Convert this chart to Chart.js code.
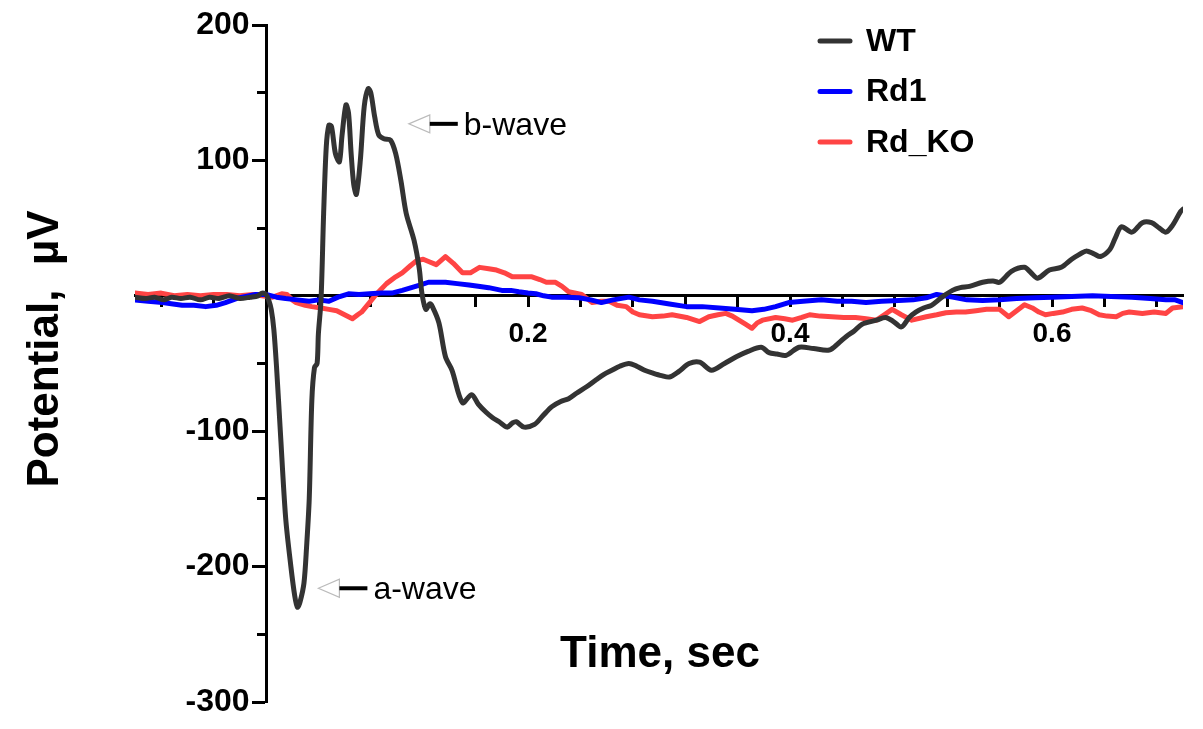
<!DOCTYPE html>
<html>
<head>
<meta charset="utf-8">
<script src="https://cdn.jsdelivr.net/npm/chart.js@4.4.0/dist/chart.umd.min.js"></script>
<style>
html,body{margin:0;padding:0;background:#ffffff;}
canvas{display:block;}
</style>
</head>
<body>
<canvas id="c" width="1203" height="729"></canvas>
<script>
// ---------- data ----------
const seriesNames = ['WT', 'Rd1', 'Rd_KO'];
const seriesColors = ['#333333', '#0000ff', '#ff4444'];

const wtTime = [-0.100,-0.092,-0.085,-0.078,-0.072,-0.065,-0.058,-0.050,-0.043,-0.036,-0.028,-0.020,-0.012,-0.006,-0.003,0.000,0.002,0.004,0.006,0.008,0.011,0.015,0.019,0.022,0.024,0.026,0.029,0.031,0.033,0.035,0.037,0.039,0.040,0.042,0.044,0.046,0.048,0.050,0.053,0.056,0.058,0.061,0.063,0.065,0.067,0.069,0.072,0.075,0.078,0.080,0.083,0.086,0.090,0.095,0.099,0.103,0.107,0.113,0.117,0.119,0.122,0.125,0.127,0.132,0.137,0.142,0.150,0.157,0.162,0.168,0.173,0.178,0.184,0.188,0.191,0.197,0.205,0.211,0.218,0.225,0.231,0.237,0.245,0.252,0.258,0.264,0.270,0.277,0.283,0.289,0.295,0.302,0.308,0.315,0.323,0.331,0.340,0.350,0.359,0.368,0.378,0.384,0.390,0.397,0.407,0.418,0.430,0.437,0.443,0.449,0.455,0.466,0.473,0.479,0.485,0.491,0.496,0.502,0.508,0.516,0.524,0.530,0.537,0.547,0.555,0.560,0.569,0.579,0.584,0.589,0.598,0.607,0.615,0.620,0.626,0.632,0.637,0.644,0.648,0.653,0.661,0.669,0.676,0.682,0.687,0.692,0.698,0.700];
const wtValue = [-1,-2,-1,-3,-1,-2,-1,-3,-1,-2,0,-2,-1,0,2,1,-3,-10,-25,-52,-101,-164,-200,-222,-230,-226,-212,-185,-150,-77,-53,-50,-28,-3,61,110,126,125,105,99,118,141,135,105,82,75,100,140,153,150,132,119,116,115,105,85,61,41,20,2,-10,-6,-8,-20,-45,-55,-79,-73,-80,-86,-90,-93,-97,-94,-93,-97,-95,-89,-82,-78,-76,-72,-67,-62,-58,-55,-52,-50,-52,-55,-57,-59,-60,-56,-50,-49,-55,-50,-45,-41,-38,-42,-43,-44,-38,-39,-40,-35,-30,-26,-21,-18,-16,-19,-23,-16,-12,-9,-7,-1,4,6,7,10,11,10,18,21,17,13,19,21,27,30,33,31,29,34,42,51,47,54,54,50,47,52,62,64];

const rd1Time = [-0.100,-0.090,-0.079,-0.071,-0.064,-0.055,-0.046,-0.038,-0.031,-0.021,-0.008,0.000,0.008,0.015,0.024,0.033,0.040,0.048,0.055,0.063,0.071,0.079,0.088,0.096,0.104,0.111,0.118,0.124,0.130,0.137,0.146,0.155,0.162,0.170,0.180,0.187,0.193,0.200,0.206,0.212,0.218,0.228,0.239,0.248,0.256,0.265,0.277,0.285,0.295,0.308,0.321,0.333,0.346,0.358,0.371,0.380,0.389,0.399,0.410,0.424,0.436,0.447,0.458,0.470,0.483,0.494,0.504,0.512,0.518,0.524,0.535,0.547,0.560,0.573,0.587,0.600,0.615,0.631,0.645,0.661,0.675,0.687,0.694,0.700];
const rd1Value = [-3,-4,-5,-6,-7,-7,-8,-7,-5,-1.5,1,1,-1,-2,-3,-4,-3,-4,-1,1.5,1,1.5,2,2,4,6,8,10,10,10,9,8,7,6,4,4,3,2,1.5,0,-1,-1,-1.5,-3,-5,-3,-1,-3,-4,-6,-8,-8,-9,-10,-11,-10,-8,-5,-4,-3,-4,-4,-5,-4,-3.5,-3,-1.5,1,0,-1,-3,-3.5,-3,-2,-1.5,-1,-0.5,0,-0.5,-1,-2,-3,-3,-5];

const rdkoTime = [-0.100,-0.090,-0.080,-0.070,-0.060,-0.050,-0.040,-0.030,-0.020,-0.010,-0.003,0.005,0.012,0.016,0.020,0.023,0.030,0.035,0.042,0.048,0.054,0.060,0.066,0.070,0.073,0.079,0.084,0.092,0.099,0.104,0.110,0.115,0.120,0.125,0.130,0.137,0.143,0.150,0.156,0.163,0.170,0.176,0.182,0.188,0.195,0.203,0.209,0.214,0.221,0.226,0.231,0.241,0.249,0.256,0.262,0.268,0.275,0.280,0.285,0.295,0.303,0.310,0.321,0.331,0.338,0.345,0.351,0.356,0.361,0.366,0.371,0.375,0.379,0.389,0.396,0.402,0.409,0.415,0.423,0.432,0.441,0.450,0.458,0.466,0.472,0.478,0.485,0.493,0.504,0.512,0.519,0.527,0.534,0.542,0.550,0.560,0.567,0.573,0.579,0.585,0.590,0.595,0.601,0.608,0.615,0.623,0.630,0.636,0.642,0.649,0.654,0.659,0.669,0.678,0.687,0.692,0.700];
const rdkoValue = [2,1,2,0,1,0,1,1,0,1,0,-1,1.5,1,-3,-5,-7,-8,-9,-10,-11,-14,-17,-14,-12,-5,1,9,14,17,22,26,27,25,23,29,24,17,17,21,20,19,17,14,14,14,12,10,10,7,3,1,-5,-4,-4,-7,-8,-12,-14,-15.5,-15,-14,-16,-19,-15.5,-14,-13,-15,-18,-21,-24,-20,-18,-16,-17,-18,-16,-14,-15,-15.5,-16,-16,-17,-18,-14,-10,-14,-18,-15.5,-14,-12.5,-12,-12,-11,-10,-10,-15.5,-11,-6.6,-9,-12,-14,-13,-12,-10,-9,-11,-14,-15,-15.5,-13,-12,-13,-12,-13,-9,-8];

const xTickValues = [-0.08,-0.04,0,0.04,0.08,0.12,0.16,0.2,0.24,0.28,0.32,0.36,0.4,0.44,0.48,0.52,0.56,0.6,0.64,0.68];
const xLabelValues = [0.2, 0.4, 0.6];
const yMajorTickValues = [-300,-200,-100,0,100,200];
const yMinorTickValues = [-250,-150,-50,50,150];
const yLabelValues = [200, 100, -100, -200, -300];

const xTitle = 'Time, sec';
const yTitle = 'Potential,  \u00B5V';
const annotations = [
  {text: 'b-wave', x: 0.109, y: 127},
  {text: 'a-wave', x: 0.040, y: -216}
];

// ---------- chart ----------
const FONT = '"Liberation Sans", Arial, Helvetica, sans-serif';
Chart.defaults.font.family = FONT;
Chart.defaults.color = '#000';

function toPoints(ts, vs) { return ts.map((t, i) => ({x: t, y: vs[i]})); }
function isLabel(v, list) { return list.some(l => Math.abs(l - v) < 1e-9); }

const allTimes = [wtTime, rd1Time, rdkoTime];
const allValues = [wtValue, rd1Value, rdkoValue];

const titlesPlugin = {
  id: 'titles',
  afterDraw(chart) {
    const ctx = chart.ctx;
    ctx.save();
    ctx.fillStyle = '#000';
    ctx.font = 'bold 44px ' + FONT;
    ctx.textAlign = 'center';
    ctx.textBaseline = 'middle';
    ctx.fillText(xTitle, 660, 655);
    ctx.translate(46, 349);
    ctx.rotate(-Math.PI / 2);
    ctx.fillText(yTitle, 0, 0);
    ctx.restore();
  }
};

const legendPlugin = {
  id: 'customLegend',
  afterDraw(chart) {
    const ctx = chart.ctx;
    ctx.save();
    chart.data.datasets.forEach((ds, i) => {
      const y = 41 + 50.5 * i;
      ctx.strokeStyle = ds.borderColor;
      ctx.lineWidth = 5;
      ctx.lineCap = 'round';
      ctx.beginPath();
      ctx.moveTo(820, y);
      ctx.lineTo(850, y);
      ctx.stroke();
      ctx.fillStyle = '#000';
      ctx.font = 'bold 32px ' + FONT;
      ctx.textAlign = 'left';
      ctx.textBaseline = 'middle';
      ctx.fillText(ds.label, 866, y + 1);
    });
    ctx.restore();
  }
};

const annotationPlugin = {
  id: 'waveLabels',
  afterDatasetsDraw(chart) {
    const ctx = chart.ctx;
    const xs = chart.scales.x, ys = chart.scales.y;
    ctx.save();
    annotations.forEach(a => {
      const px = xs.getPixelForValue(a.x);
      const py = ys.getPixelForValue(a.y);
      ctx.beginPath();
      ctx.moveTo(px, py);
      ctx.lineTo(px + 21, py - 9);
      ctx.lineTo(px + 21, py + 9);
      ctx.closePath();
      ctx.fillStyle = '#ffffff';
      ctx.fill();
      ctx.strokeStyle = '#bbbbbb';
      ctx.lineWidth = 1.2;
      ctx.stroke();
      ctx.beginPath();
      ctx.moveTo(px + 21, py);
      ctx.lineTo(px + 49, py);
      ctx.strokeStyle = '#000';
      ctx.lineWidth = 4;
      ctx.stroke();
      ctx.fillStyle = '#000';
      ctx.font = '32px ' + FONT;
      ctx.textAlign = 'left';
      ctx.textBaseline = 'middle';
      ctx.fillText(a.text, px + 55, py + 2);
    });
    ctx.restore();
  }
};

new Chart(document.getElementById('c'), {
  type: 'line',
  data: {
    datasets: seriesNames.map((name, i) => ({
      label: name,
      data: toPoints(allTimes[i], allValues[i]),
      borderColor: seriesColors[i],
      backgroundColor: seriesColors[i],
      borderWidth: 5,
      pointRadius: 0,
      tension: i === 0 ? 0.3 : 0,
      fill: false,
      borderJoinStyle: 'round',
      borderCapStyle: 'round'
    }))
  },
  options: {
    responsive: false,
    devicePixelRatio: 1,
    animation: false,
    layout: {padding: {left: 135, top: 25, right: 20, bottom: 27}},
    plugins: {legend: {display: false}, tooltip: {enabled: false}},
    scales: {
      x: {
        type: 'linear', min: -0.1, max: 0.7,
        position: {y: 0},
        afterBuildTicks: s => { s.ticks = xTickValues.map(v => ({value: v})); },
        border: {display: true, color: '#000', width: 3},
        grid: {display: true, drawOnChartArea: false, drawTicks: true, tickLength: 10, tickWidth: 3, tickColor: '#000'},
        ticks: {autoSkip: false, maxRotation: 0, padding: 12, color: '#000',
          font: {size: 28, weight: 'bold'},
          callback: v => isLabel(v, xLabelValues) ? String(v) : ''}
      },
      y: {
        type: 'linear', min: -300, max: 200,
        position: {x: 0},
        afterBuildTicks: s => { s.ticks = yMajorTickValues.map(v => ({value: v})); },
        border: {display: true, color: '#000', width: 3},
        grid: {display: true, drawOnChartArea: false, drawTicks: true, tickLength: 13, tickWidth: 3, tickColor: '#000'},
        ticks: {display: false}
      },
      yMinor: {
        type: 'linear', min: -300, max: 200,
        position: {x: 0},
        afterBuildTicks: s => { s.ticks = yMinorTickValues.map(v => ({value: v})); },
        border: {display: false},
        grid: {display: true, drawOnChartArea: false, drawTicks: true, tickLength: 9, tickWidth: 3, tickColor: '#000'},
        ticks: {display: false}
      },
      yLabels: {
        type: 'linear', min: -300, max: 200,
        position: {x: -0.0125},
        afterBuildTicks: s => { s.ticks = yLabelValues.map(v => ({value: v})); },
        border: {display: false},
        grid: {display: false},
        ticks: {autoSkip: false, padding: 0, color: '#000',
          font: {size: 32, weight: 'bold'},
          callback: v => String(v)}
      }
    }
  },
  plugins: [annotationPlugin, titlesPlugin, legendPlugin]
});
</script>
</body>
</html>
